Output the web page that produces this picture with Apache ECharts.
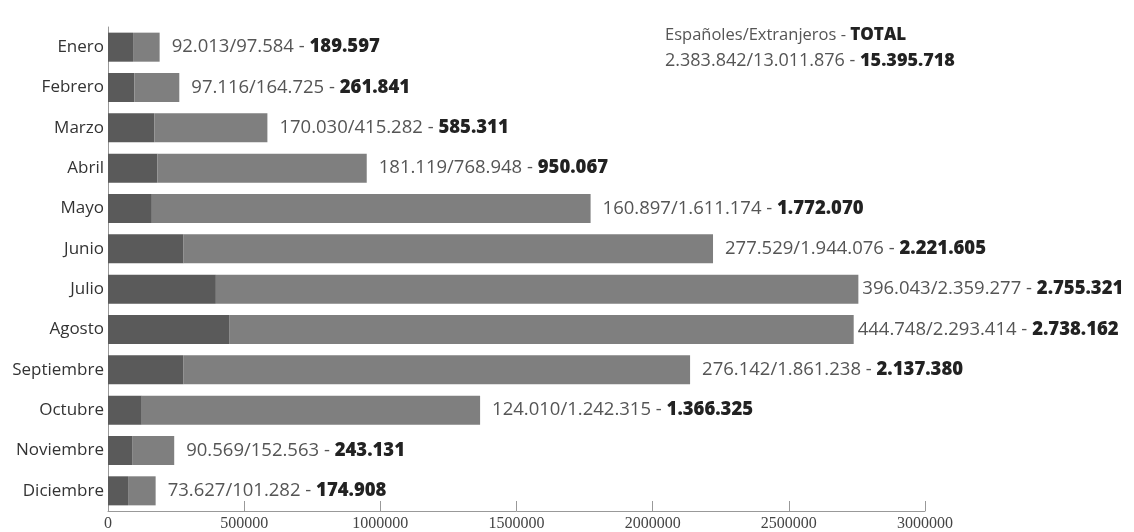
<!DOCTYPE html>
<html><head><meta charset="utf-8">
<script src="https://cdn.jsdelivr.net/npm/echarts@6/dist/echarts.min.js"></script>
<style>html,body{margin:0;padding:0;background:#fff}#c{width:1134px;height:532px}</style>
</head><body><div id="c"></div>
<script>
const months = ['Enero','Febrero','Marzo','Abril','Mayo','Junio','Julio','Agosto','Septiembre','Octubre','Noviembre','Diciembre'];
const espanoles = [92013,97116,170030,181119,160897,277529,396043,444748,276142,124010,90569,73627];
const extranjeros = [97584,164725,415282,768948,1611174,1944076,2359277,2293414,1861238,1242315,152563,101282];
const totales = [189597,261841,585311,950067,1772070,2221605,2755321,2738162,2137380,1366325,243131,174908];
const xTicks = [0,500000,1000000,1500000,2000000,2500000,3000000];
const summary = {esp:'2.383.842', ext:'13.011.876', total:'15.395.718'};

const fmt = v => String(v).replace(/\B(?=(\d{3})+(?!\d))/g, '.');
// label gap: the two longest bars have their labels tucked closer in the original
const labelGap = i => (totales[i] > 2500000 ? 4 : 12);

const chart = echarts.init(document.getElementById('c'), null, {renderer:'canvas'});
chart.setOption({
  animation:false,
  backgroundColor:'#fff',
  textStyle:{fontFamily:'Open Sans'},
  title:{
    left:660, top:17,
    text:'{h|Españoles/Extranjeros - }{hb|TOTAL}\n{n|'+summary.esp+'/'+summary.ext+' - }{b|'+summary.total+'}',
    textStyle:{fontWeight:'normal', rich:{
      h:{fontFamily:'Open Sans',fontSize:16.5,fontWeight:'normal',color:'#555',lineHeight:26},
      hb:{fontFamily:'Open Sans',fontSize:17,fontWeight:800,color:'#222',lineHeight:26},
      n:{fontFamily:'Open Sans',fontSize:18,fontWeight:'normal',color:'#555',lineHeight:26},
      b:{fontFamily:'Open Sans',fontSize:18,fontWeight:800,color:'#222',lineHeight:26}
    }}
  },
  grid:{left:108, right:209, top:27, bottom:21, containLabel:false},
  xAxis:{
    type:'value', min:0, max:3000000, interval:500000,
    axisLine:{show:true, lineStyle:{color:'#999', width:1}},
    axisTick:{show:true, inside:true, length:10, lineStyle:{color:'#999'}},
    splitLine:{show:false},
    axisLabel:{color:'#444', fontSize:16, fontFamily:'Liberation Sans Narrow', margin:5,
      formatter:v=>String(v)}
  },
  yAxis:{
    type:'category', data:months, inverse:true,
    axisLine:{show:true, lineStyle:{color:'#999'}},
    axisTick:{show:false},
    axisLabel:{color:'#333', fontSize:17, fontFamily:'Open Sans', margin:4}
  },
  series:[
    {name:'Españoles', type:'bar', stack:'t', data:espanoles, barWidth:'72%',
     itemStyle:{color:'#5a5a5a'}},
    {name:'Extranjeros', type:'bar', stack:'t', barWidth:'72%',
     data:extranjeros.map((v,i)=>({value:v, label:{distance:labelGap(i)}})),
     itemStyle:{color:'#7f7f7f'},
     label:{show:true, position:'right', distance:12,
       formatter:p=>'{n|'+fmt(espanoles[p.dataIndex])+'/'+fmt(extranjeros[p.dataIndex])+' - }{b|'+fmt(totales[p.dataIndex])+'}',
       rich:{
         n:{fontFamily:'Open Sans',fontSize:18.5,color:'#555'},
         b:{fontFamily:'Open Sans',fontSize:18.5,fontWeight:800,color:'#222'}
       }}}
  ]
});
</script></body></html>
